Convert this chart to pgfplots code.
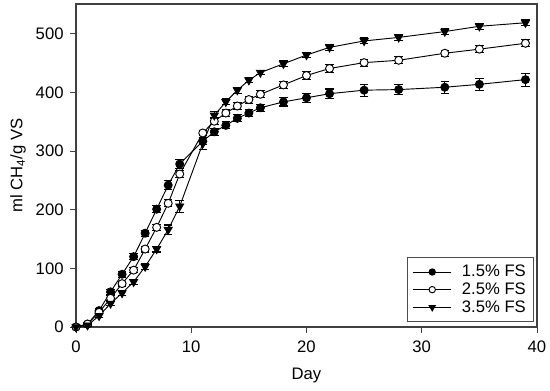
\documentclass[border=0pt]{standalone}
\usepackage{pgfplots}
\pgfplotsset{compat=1.18}
\usepackage{pgfplotstable}
\usepackage{fontspec}
\setmainfont{Liberation Sans}

\pgfplotstableread{
x y e
0 0 1
1 5 2
2 28 4
3 60 4
4 90 5
5 120 5
6 160 5
7 201 6
8 242 8
9 278 7
11 317 6
12 333 6
13 344 6
14 356 6
15 365 6
16 374 6
18 384 7
20 391 8
22 398 8
25 404 10
28 405 8
32 409 10
35 414 10
39 422 11
}\tableA

\pgfplotstableread{
x y e
0 0 1
1 5 2
2 25 3
3 49 4
4 74 4
5 97 4
6 133 5
7 170 5
8 211 6
9 261 6
11 331 5
12 351 6
13 365 6
14 377 6
15 388 6
16 397 6
18 413 6
20 429 7
22 441 7
25 451 6
28 455 6
32 467 5
35 474 6
39 484 6
}\tableB

\pgfplotstableread{
x y e
0 0 1
1 3 2
2 19 3
3 40 4
4 58 4
5 77 4
6 103 5
7 133 5
8 166 8
9 206 10
11 313 10
12 361 6
13 384 5
14 404 5
15 421 4
16 434 4
18 449 5
20 464 5
22 477 5
25 488 5
28 494 5
32 504 5
35 513 5
39 519 5
}\tableC

\begin{document}
\begin{tikzpicture}
\useasboundingbox (-57pt,-47.25pt) rectangle (355.5pt,245.25pt);
\begin{axis}[
  at={(0,0)}, anchor=south west,
  scale only axis,
  width=345.75pt, height=242.25pt,
  xmin=0, xmax=40, ymin=0, ymax=551,
  xtick={0,10,20,30,40},
  ytick={0,100,200,300,400,500},
  tick align=outside,
  tick pos=left,
  major tick length=4.3pt,
  axis line style={line width=0.8pt, black!75},
  tick style={line width=0.7pt, black!75},
  clip=false,
  font=\fontsize{12.5}{14}\selectfont,
  tick label style={font=\fontsize{12.5}{14}\selectfont},
  xticklabel style={yshift=-2.5pt},
  yticklabel style={xshift=-1.5pt},
  /pgf/number format/assume math mode=true,
  xlabel={Day},
  ylabel={ml CH\textsubscript{4}/g VS},
  xlabel style={yshift=-5pt},
  ylabel style={yshift=0.5pt},
  legend cell align=left,
  legend style={at={(0.994,0.016)}, anchor=south east, draw=black!70, line width=0.6pt,
    font=\fontsize{12.5}{14}\selectfont, inner xsep=4pt, inner ysep=3.5pt, row sep=-1pt},
  legend image code/.code={
    \draw[#1, mark=none] (0cm,0cm) -- (1.0cm,0cm);
    \draw[#1, every mark/.append style={scale=0.8}] plot coordinates {(0.5cm,0cm)};
    \path (1.2cm,0cm);
  },
  every axis plot/.append style={line width=0.7pt, black},
  error bars/y dir=both,
  error bars/y explicit,
  error bars/error mark options={black, rotate=90, mark size=3.2pt, line width=0.8pt},
  error bars/error bar style={black, line width=0.8pt},
]
\addplot[mark=*, mark size=3pt, mark options={fill=black, solid}] table[x=x, y=y, y error=e] {\tableA};
\addlegendentry{1.5\% FS}
\addplot[mark=*, mark size=3pt, mark options={fill=white, solid}] table[x=x, y=y, y error=e] {\tableB};
\addlegendentry{2.5\% FS}
\addplot[mark=triangle*, mark size=3.4pt, mark options={fill=black, solid, rotate=180}] table[x=x, y=y, y error=e] {\tableC};
\addlegendentry{3.5\% FS}
\end{axis}
\end{tikzpicture}
\end{document}
